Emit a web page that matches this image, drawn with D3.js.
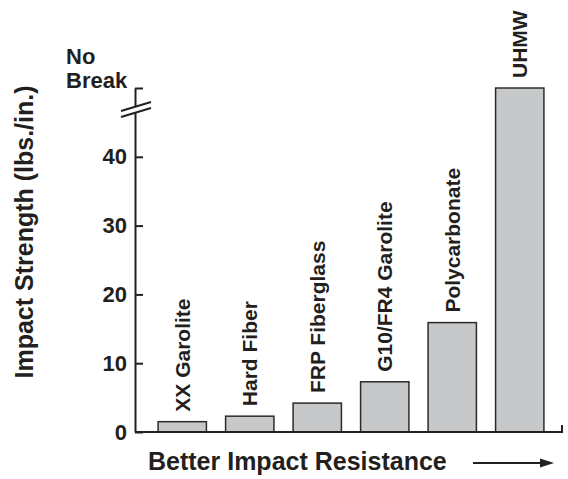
<!DOCTYPE html>
<html>
<head>
<meta charset="utf-8">
<script src="https://cdn.jsdelivr.net/npm/d3@7"></script>
<style>
  html, body { margin: 0; padding: 0; background: #fff; }
  svg { display: block; }
  text { font-family: "Liberation Sans", Arial, Helvetica, sans-serif; font-weight: bold; fill: #231f20; }
</style>
</head>
<body>
<svg id="chart" width="568" height="479"></svg>
<script>
// ---- data ----
const categories = ["XX Garolite", "Hard Fiber", "FRP Fiberglass", "G10/FR4 Garolite", "Polycarbonate", "UHMW"];
const values = [1.5, 2.3, 4.2, 7.3, 15.9, 50]; // 50 = "No Break" (above axis break)
const tickValues = [0, 10, 20, 30, 40, 50];
const tickLabels = ["0", "10", "20", "30", "40", "No Break"];
const yTitle = "Impact Strength (lbs./in.)";
const xTitle = "Better Impact Resistance";

const ink = "#231f20";
const svg = d3.select("#chart");

const x = d3.scaleBand().domain(categories).range([140, 562]).paddingInner(0.284).paddingOuter(0.268);
const y = d3.scaleLinear().domain([0, 50]).range([432, 88]);
const axisX = 135;

// bars
svg.append("g").selectAll("rect").data(values).join("rect")
  .attr("x", (d, i) => x(categories[i]))
  .attr("y", d => y(d))
  .attr("width", x.bandwidth())
  .attr("height", d => y(0) - y(d))
  .attr("fill", "#c7c8ca")
  .attr("stroke", "#2b2b2b")
  .attr("stroke-width", 1.5);

// bar labels (rotated)
svg.append("g").selectAll("text").data(values).join("text")
  .attr("transform", (d, i) => `translate(${x(categories[i]) + x.bandwidth() / 2},${y(d) - 10}) rotate(-90)`)
  .attr("dy", "0.35em")
  .attr("text-anchor", "start")
  .style("font-size", "21px")
  .text((d, i) => categories[i]);

// y axis
const yAxis = d3.axisLeft(y)
  .tickValues(tickValues)
  .tickFormat((d, i) => tickLabels[i])
  .tickSizeInner(-8)
  .tickSizeOuter(0)
  .tickPadding(8);
const gy = svg.append("g").attr("transform", `translate(${axisX},0)`).call(yAxis);
gy.select(".domain").attr("stroke", ink).attr("stroke-width", 2);
gy.selectAll(".tick line").attr("stroke", ink).attr("stroke-width", 2);
gy.selectAll(".tick text")
  .attr("fill", ink)
  .style("font-size", "22px")
  .style("font-family", '"Liberation Sans", Arial, sans-serif')
  .style("font-weight", "bold");
// "No Break" label as two lines
gy.selectAll(".tick").filter(d => d === 50).select("text")
  .each(function () {
    const t = d3.select(this);
    const parts = t.text().split(" ");
    t.text(null).attr("text-anchor", "start").attr("x", -69).attr("dy", null);
    t.append("tspan").attr("x", -69).attr("y", -25).text(parts[0]);
    t.append("tspan").attr("x", -69).attr("y", -1).text(parts[1]);
  });

// axis break marks
const by = 104;
svg.append("path")
  .attr("d", `M${axisX - 14},${by + 7} L${axisX + 16},${by - 2} L${axisX + 16},${by + 4} L${axisX - 14},${by + 13} Z`)
  .attr("fill", "#fff");
svg.append("line").attr("x1", axisX - 14).attr("y1", by + 7).attr("x2", axisX + 16).attr("y2", by - 2)
  .attr("stroke", ink).attr("stroke-width", 2);
svg.append("line").attr("x1", axisX - 14).attr("y1", by + 13).attr("x2", axisX + 16).attr("y2", by + 4)
  .attr("stroke", ink).attr("stroke-width", 2);

// x baseline
const xEnd = x.range()[1];
svg.append("path")
  .attr("d", `M${axisX},${y(0)} H${xEnd} V${y(0) - 7}`)
  .attr("fill", "none").attr("stroke", ink).attr("stroke-width", 2);

// titles
svg.append("text")
  .attr("transform", `translate(33,232) rotate(-90)`)
  .attr("text-anchor", "middle")
  .style("font-size", "25px")
  .text(yTitle);

svg.append("text")
  .attr("x", 148).attr("y", 470)
  .style("font-size", "25px")
  .text(xTitle);

// arrow
svg.append("line").attr("x1", 473).attr("y1", 463).attr("x2", 543).attr("y2", 463)
  .attr("stroke", ink).attr("stroke-width", 2);
svg.append("path").attr("d", "M554,463 L540,458.5 L540,467.5 Z").attr("fill", ink);
</script>
</body>
</html>
